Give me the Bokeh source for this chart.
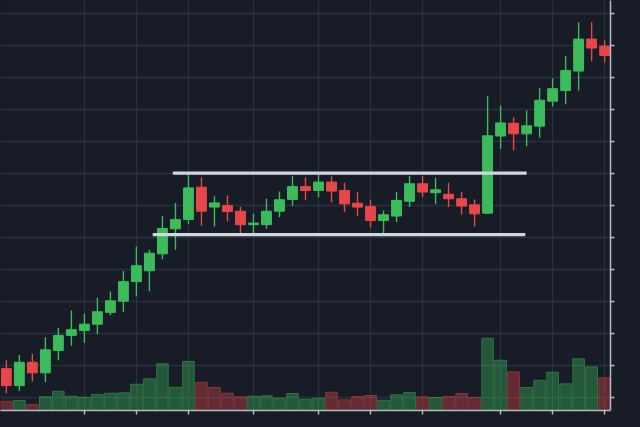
from bokeh.plotting import figure
from bokeh.models import Range1d, FixedTicker, ColumnDataSource
from bokeh.embed import file_html
from bokeh.resources import INLINE

# ---------------- data ----------------
opens = [109.1, 103.8, 111.1, 107.8, 114.8, 119.5, 121.0, 123.0, 126.7, 130.2,
         136.3, 139.7, 145.0, 152.8, 155.7, 165.8, 159.6, 160.1, 158.3, 154.1,
         154.1, 158.3, 162.0, 166.0, 164.8, 167.4, 164.8, 160.8, 159.8, 155.4,
         156.8, 161.4, 166.9, 164.1, 163.6, 162.2, 160.3, 157.7, 181.8, 185.8,
         182.5, 184.9, 192.7, 196.0, 202.1, 212.1, 209.9]
closes = [103.8, 111.1, 107.8, 115.0, 119.5, 121.3, 123.0, 126.9, 130.3, 136.3,
          141.3, 145.2, 152.9, 155.7, 165.6, 158.3, 160.9, 158.2, 154.1, 154.6,
          158.3, 161.9, 166.0, 164.8, 167.4, 164.6, 160.6, 159.6, 155.4, 157.2,
          161.7, 166.9, 164.3, 165.0, 162.2, 159.9, 157.5, 181.9, 185.9, 182.5,
          185.0, 193.0, 196.6, 202.3, 212.1, 209.3, 207.0]
highs = [111.7, 113.4, 113.8, 118.9, 121.8, 127.3, 126.3, 131.3, 133.2, 139.6,
         147.3, 146.3, 156.8, 160.9, 169.7, 168.9, 163.0, 163.2, 159.6, 157.5,
         162.2, 164.5, 169.2, 168.9, 169.8, 169.2, 167.2, 164.3, 161.9, 158.5,
         164.3, 169.3, 169.3, 168.8, 167.2, 164.3, 162.0, 194.2, 191.3, 187.7,
         189.8, 196.7, 199.9, 206.8, 217.4, 217.4, 211.7]
lows = [101.4, 102.1, 105.1, 104.9, 111.7, 116.3, 117.2, 119.9, 125.8, 126.8,
        131.7, 133.3, 143.3, 146.3, 154.4, 153.8, 153.5, 155.2, 151.3, 151.3,
        152.8, 156.4, 159.9, 161.7, 162.7, 161.1, 158.0, 156.7, 153.3, 151.4,
        154.9, 159.6, 162.7, 160.6, 159.6, 157.3, 153.5, 157.5, 177.8, 177.3,
        178.6, 181.3, 191.0, 191.7, 196.0, 205.2, 204.8]
volumes = [93, 100, 60, 137, 193, 143, 133, 160, 173, 177,
           263, 317, 467, 233, 490, 283, 230, 173, 137, 143,
           147, 123, 170, 113, 123, 183, 107, 140, 150, 103,
           157, 180, 137, 130, 140, 170, 130, 723, 503, 387,
           230, 303, 383, 267, 517, 437, 327]
vol_dir = ["d", "u", "d", "u", "u", "u", "u", "u", "u", "u",
           "u", "u", "u", "u", "u", "d", "d", "d", "d", "u",
           "u", "u", "u", "u", "u", "d", "d", "d", "d", "u",
           "u", "u", "d", "u", "d", "d", "d", "u", "u", "d",
           "u", "u", "u", "u", "u", "u", "d"]

# support / resistance levels: price, start candle, end candle
level_prices = [170.2, 151.0]
level_start = [12.8, 11.25]
level_end = [40.0, 39.9]

x_ticks = [6, 10, 14, 19, 24, 28, 32, 38, 42, 46]
y_ticks = [100, 110, 120, 130, 140, 150, 160, 170, 180, 190, 200, 210, 220]

# ---------------- styling ----------------
BG = "#171c26"
GRID = "#2b313c"
AXIS = "#b4bac3"
UP = "#3dba5c"
DOWN = "#e6474a"
VOL_UP = "#3dba5c"
VOL_DOWN = "#e0484c"
LEVEL = "#cfd6e0"

idx = list(range(len(opens)))
colors = [UP if c >= o else DOWN for o, c in zip(opens, closes)]
src = ColumnDataSource(dict(
    x=idx, open=opens, close=closes, high=highs, low=lows,
    body_top=[max(o, c) for o, c in zip(opens, closes)],
    body_bot=[min(o, c) for o, c in zip(opens, closes)],
    color=colors,
))
vsrc = ColumnDataSource(dict(
    x=idx, vol=volumes,
    color=[VOL_UP if d == "u" else VOL_DOWN for d in vol_dir],
))

p = figure(width=640, height=427,
           x_range=Range1d(-0.45, 46.45), y_range=Range1d(96.03, 224.16),
           output_backend="svg", toolbar_location=None, y_axis_location="right",
           background_fill_color=BG, border_fill_color=BG, outline_line_color=None,
           min_border_left=0, min_border_top=0, min_border_right=30, min_border_bottom=17)
p.extra_y_ranges = {"vol": Range1d(0, 4100)}

for ax in (p.xaxis[0], p.yaxis[0]):
    ax.major_label_text_font_size = "7px"
    ax.major_label_text_color = None
    ax.major_label_standoff = 0
    ax.major_tick_in = 0
    ax.major_tick_out = 4
    ax.minor_tick_line_color = None
    ax.axis_line_color = AXIS
    ax.axis_line_width = 1.5
    ax.major_tick_line_color = AXIS
    ax.major_tick_line_width = 1.5
p.xaxis[0].ticker = FixedTicker(ticks=x_ticks)
p.yaxis[0].ticker = FixedTicker(ticks=y_ticks)
p.xgrid.ticker = FixedTicker(ticks=x_ticks)
p.ygrid.ticker = FixedTicker(ticks=y_ticks)
p.grid.grid_line_color = GRID
p.grid.grid_line_width = 1.3

# volume
p.vbar(x="x", top="vol", bottom=0, width=0.9, source=vsrc, y_range_name="vol",
       fill_color="color", line_color="color", fill_alpha=0.38, line_alpha=0.45)

# candles
p.segment(x0="x", y0="low", x1="x", y1="high", source=src, line_color="color", line_width=1.4)
p.vbar(x="x", top="body_top", bottom="body_bot", width=0.76, source=src,
       fill_color="color", line_color="color", line_width=1)

# levels
p.segment(x0=level_start, y0=level_prices, x1=level_end, y1=level_prices,
          line_color=LEVEL, line_width=3.2)

html = file_html(p, INLINE, "chart")
html = html.replace("<head>", "<head><style>html,body{margin:0;padding:0;background:#171c26;overflow:hidden;}</style>", 1)
open("out.html", "w").write(html)
